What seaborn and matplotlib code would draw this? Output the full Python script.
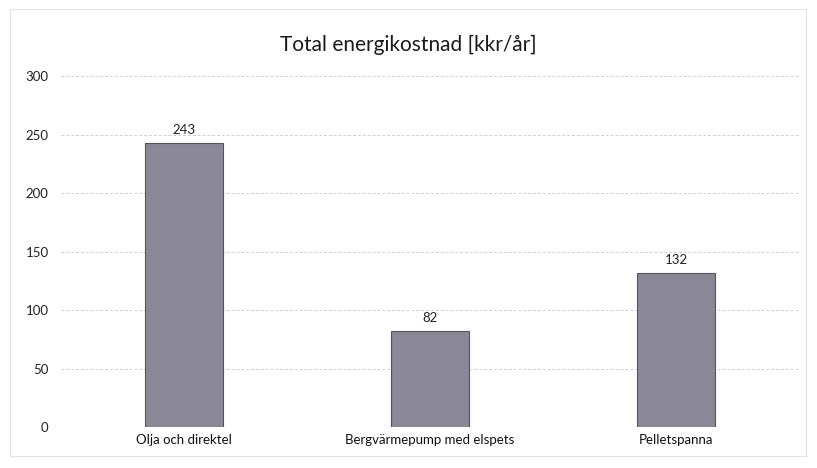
import numpy as np
import pandas as pd
import matplotlib
matplotlib.use("Agg")
import matplotlib.pyplot as plt
import seaborn as sns

# data
categories = ["Olja och direktel", "Bergvärmepump med elspets", "Pelletspanna"]
costs = [243, 82, 132]
y_ticks = [0, 50, 100, 150, 200, 250, 300]

df = pd.DataFrame({"kategori": categories, "kostnad": costs})

sns.set_theme(style="white")
plt.rcParams["font.family"] = ["Lato", "DejaVu Sans"]

fig = plt.figure(figsize=(8.17, 4.68), dpi=100)
ax = fig.add_axes([0.0747, 0.0876, 0.9033, 0.75])

sns.barplot(data=df, x="kategori", y="kostnad", color="#8a8797",
            width=0.32, edgecolor="#55535e", linewidth=0.8, saturation=1, ax=ax)

# value labels above bars
for i, v in enumerate(costs):
    ax.text(i, v + 6, str(v), ha="center", va="bottom", fontsize=9.5, color="#222222")

ax.set_ylim(0, 300)
ax.set_xlim(-0.5, 2.5)
ax.set_yticks(y_ticks)
ax.yaxis.grid(True, color="#d0d0d0", linestyle=(0, (3, 2)), linewidth=0.7)
ax.set_axisbelow(True)
ax.tick_params(axis="y", labelsize=9.5, colors="#222222", length=0, pad=9)
ax.tick_params(axis="x", labelsize=9.5, colors="#111111", length=0, pad=5)
ax.set_xlabel("")
ax.set_ylabel("")
for s in ax.spines.values():
    s.set_visible(False)

fig.text(0.5, 0.905, "Total energikostnad [kkr/år]", ha="center", va="center",
         fontsize=15, color="#1a1a1a")

# faint outer border of the chart area
fig.patches.append(plt.Rectangle((0.012, 0.025), 0.975, 0.955, transform=fig.transFigure,
                                 fill=False, edgecolor="#e2e2e2", linewidth=0.8))

fig.savefig("out.png", dpi=100, facecolor="white")
